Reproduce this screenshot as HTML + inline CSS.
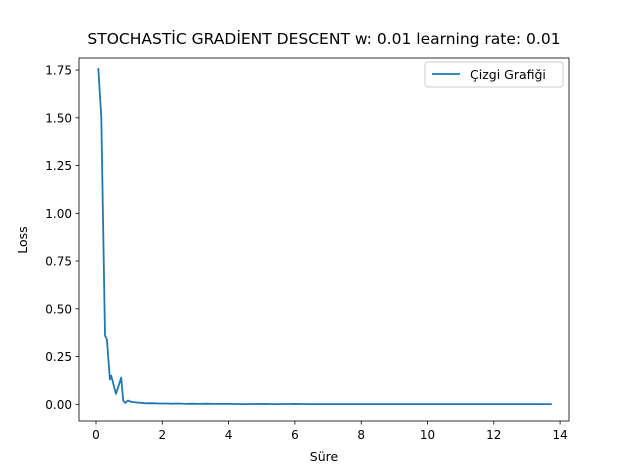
<!DOCTYPE html>
<html><head><meta charset="utf-8"><style>
body{margin:0;background:#fff;font-family:"Liberation Sans","DejaVu Sans",sans-serif}
</style></head><body>
<svg id="chart" width="632" height="468" xmlns="http://www.w3.org/2000/svg" font-family="DejaVu Sans, Liberation Sans, sans-serif">
<rect width="632" height="468" fill="#fff"/>
<text x="324" y="44" text-anchor="middle" font-size="15.5">STOCHASTİC GRADİENT DESCENT w: 0.01 learning rate: 0.01</text>
<g id="axes"></g>
<path id="line" fill="none" stroke="#1f77b4" stroke-width="1.8" stroke-linejoin="round"/>
<rect x="79" y="58" width="490" height="363" fill="none" stroke="#000" stroke-width="0.8"/>
<g>
<rect x="425" y="62" width="138" height="25" rx="3" fill="#fff" stroke="#ccc"/>
<line x1="432" y1="74" x2="460" y2="74" stroke="#1f77b4" stroke-width="1.8"/>
<text x="470" y="79" font-size="12.5">Çizgi Grafiği</text>
</g>
<text x="324" y="461" text-anchor="middle" font-size="12.5">Süre</text>
<text x="27" y="240" text-anchor="middle" font-size="12.5" transform="rotate(-90 27 240)">Loss</text>
</svg>
<script>
const xTicks=[0,2,4,6,8,10,12,14];
const yTicks=[0,0.25,0.5,0.75,1.0,1.25,1.5,1.75];
const xs=[0.07,0.16,0.27,0.33,0.42,0.46,0.52,0.6,0.66,0.76,0.82,0.88,0.96,1.08,1.2,1.35,1.5,1.7,1.9,2.1,2.3,2.5,2.7,2.9,3.1,3.3,3.6,4.0,4.5,5,5.5,6,6.5,7,7.5,8,8.5,9,9.5,10,10.5,11,11.5,12,12.5,13,13.5,13.75];
const ys=[1.76,1.5,0.36,0.34,0.13,0.15,0.11,0.055,0.085,0.14,0.02,0.007,0.02,0.012,0.01,0.008,0.005,0.006,0.004,0.004,0.003,0.004,0.002,0.003,0.002,0.003,0.002,0.002,0.001,0.002,0.001,0.002,0.001,0.001,0.001,0.001,0.001,0.001,0.001,0.001,0.001,0.001,0.001,0.001,0.001,0.001,0.001,0.001];
const X=v=>96+v*33.15, Y=v=>404.3-v*191;
const svg=document.getElementById('chart'), ax=document.getElementById('axes'), NS='http://www.w3.org/2000/svg';
function mk(t,a){const e=document.createElementNS(NS,t);for(const k in a)e.setAttribute(k,a[k]);return e;}
xTicks.forEach(t=>{
 const l=mk('line',{x1:X(t),x2:X(t),y1:421,y2:424.5,stroke:'#000','stroke-width':0.8});
 
 
 ax.appendChild(l);
 const s=mk('text',{x:X(t),y:439,'text-anchor':'middle','font-size':12});s.textContent=t;
 
 
 ax.appendChild(s);
});
yTicks.forEach(t=>{
 const l=mk('line',{x1:75.5,x2:79,y1:Y(t),y2:Y(t),stroke:'#000','stroke-width':0.8});
 
 
 ax.appendChild(l);
 const s=mk('text',{x:72,y:Y(t)+4.5,'text-anchor':'end','font-size':12});s.textContent=t.toFixed(2);
 
 
 ax.appendChild(s);
});
document.getElementById('line').setAttribute('d',xs.map((x,i)=>(i?'L':'M')+X(x).toFixed(1)+','+Y(ys[i]).toFixed(1)).join(''));
</script>
</body></html>
